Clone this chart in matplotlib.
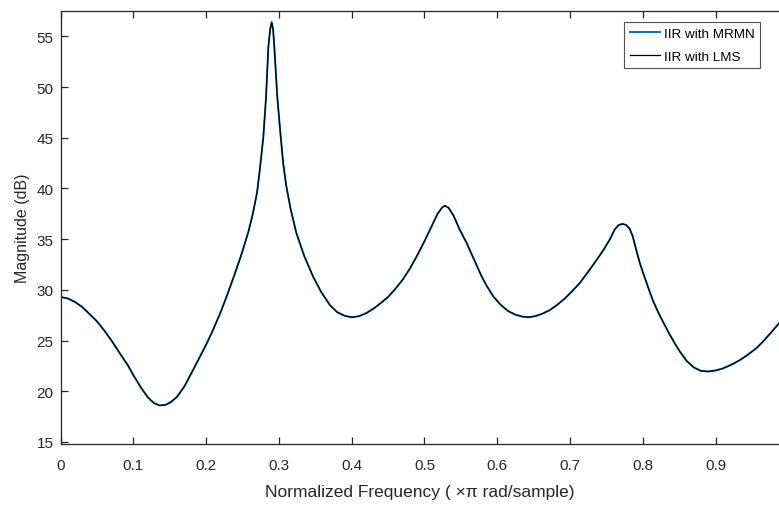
import matplotlib
matplotlib.use("Agg")
import matplotlib.pyplot as plt

# Normalized frequency (x pi rad/sample)
freq = [0.000, 0.010, 0.020, 0.030, 0.040, 0.050, 0.060, 0.070, 0.080, 0.093,
        0.100, 0.111, 0.120, 0.128, 0.136, 0.144, 0.152, 0.160, 0.170, 0.185,
        0.200, 0.208, 0.220, 0.2305, 0.240, 0.249, 0.258, 0.264, 0.270, 0.274,
        0.2786, 0.2823, 0.2855, 0.2880, 0.290, 0.292, 0.2937, 0.2978, 0.3025, 0.306,
        0.310, 0.316, 0.324, 0.335, 0.347, 0.358, 0.370, 0.380, 0.390, 0.400,
        0.410, 0.420, 0.430, 0.440, 0.450, 0.460, 0.470, 0.480, 0.490, 0.500,
        0.510, 0.518, 0.524, 0.528, 0.533, 0.540, 0.548, 0.558, 0.568, 0.578,
        0.5854, 0.595, 0.605, 0.615, 0.625, 0.635, 0.643, 0.652, 0.662, 0.672,
        0.682, 0.692, 0.702, 0.7136, 0.725, 0.735, 0.7456, 0.7548, 0.7617, 0.767,
        0.772, 0.777, 0.782, 0.786, 0.791, 0.796, 0.8006, 0.807, 0.814, 0.821,
        0.828, 0.836, 0.844, 0.851, 0.860, 0.870, 0.880, 0.890, 0.900, 0.910,
        0.924, 0.935, 0.945, 0.956, 0.965, 0.975, 0.987]

mrmn_db = [29.30, 29.15, 28.80, 28.30, 27.60, 26.90, 26.00, 25.00, 23.90, 22.50,
           21.60, 20.30, 19.40, 18.85, 18.60, 18.65, 18.95, 19.45, 20.45, 22.50,
           24.60, 25.80, 27.80, 29.80, 31.70, 33.60, 35.70, 37.45, 39.60, 42.00,
           45.06, 49.00, 53.95, 55.70, 56.40, 55.70, 53.95, 49.00, 45.06, 42.40,
           40.30, 38.00, 35.60, 33.30, 31.30, 29.80, 28.50, 27.80, 27.45, 27.30,
           27.40, 27.70, 28.15, 28.70, 29.30, 30.10, 31.00, 32.10, 33.40, 34.80,
           36.30, 37.50, 38.10, 38.30, 38.10, 37.30, 36.00, 34.60, 33.00, 31.40,
           30.40, 29.30, 28.50, 27.90, 27.55, 27.35, 27.30, 27.40, 27.65, 28.00,
           28.50, 29.10, 29.80, 30.70, 31.80, 32.80, 33.90, 35.00, 36.00, 36.40,
           36.50, 36.40, 36.00, 35.30, 33.90, 32.60, 31.60, 30.30, 28.90, 27.80,
           26.80, 25.70, 24.70, 23.90, 23.00, 22.35, 22.00, 21.95, 22.05, 22.25,
           22.70, 23.15, 23.65, 24.25, 24.90, 25.70, 26.70]

lms_db = list(mrmn_db)

xticks = [0, 0.1, 0.2, 0.3, 0.4, 0.5, 0.6, 0.7, 0.8, 0.9]
xtick_labels = ["0", "0.1", "0.2", "0.3", "0.4", "0.5", "0.6", "0.7", "0.8", "0.9"]
yticks = [15, 20, 25, 30, 35, 40, 45, 50, 55]

plt.rcParams['font.family'] = ['Liberation Sans', 'DejaVu Sans']

fig = plt.figure(figsize=(7.79, 5.06), dpi=100)
ax = fig.add_axes([0.0777, 0.1206, 0.9223, 0.8557])

ax.plot(freq, mrmn_db, color="#0072BD", lw=1.4, label="IIR with MRMN")
ax.plot(freq, lms_db, color="black", lw=0.9, label="IIR with LMS")

ax.set_xlim(0, 0.987)
ax.set_ylim(14.8, 57.5)
ax.set_xticks(xticks)
ax.set_xticklabels(xtick_labels)
ax.set_yticks(yticks)

ax.spines['right'].set_visible(False)
for s in ['left', 'top', 'bottom']:
    ax.spines[s].set_linewidth(0.9)
    ax.spines[s].set_color('#262626')

ax.tick_params(axis='both', direction='in', length=5, width=0.9, color='#262626',
               labelsize=11, labelcolor='#262626', top=True, right=False)
ax.tick_params(axis='x', pad=10)
ax.tick_params(axis='y', pad=5)

ax.set_xlabel("Normalized Frequency ( \u00d7\u03c0 rad/sample)", fontsize=12.5,
              color='#262626', labelpad=9)
ax.set_ylabel("Magnitude (dB)", fontsize=11.5, color='#262626', labelpad=5)

leg = ax.legend(loc='upper right', bbox_to_anchor=(0.9735, 0.9746), fontsize=9.7,
                frameon=True, fancybox=False, handlelength=2.2, handletextpad=0.3,
                borderpad=0.42, labelspacing=0.76, borderaxespad=0)
leg.get_frame().set_edgecolor('#262626')
leg.get_frame().set_linewidth(0.8)

fig.savefig("out.png", dpi=100)
